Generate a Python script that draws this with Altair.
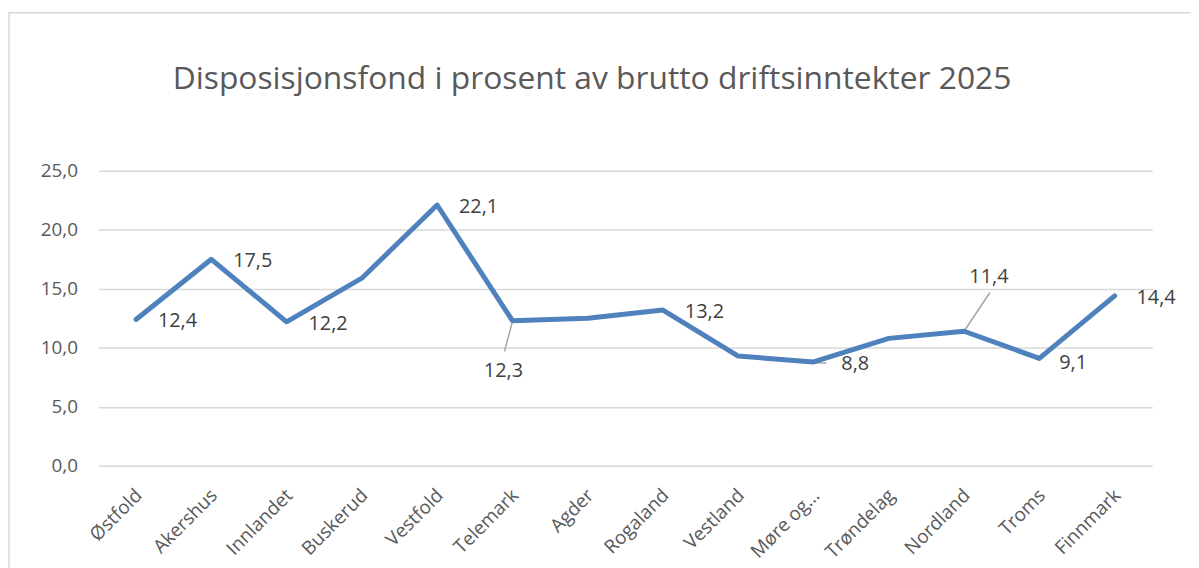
import altair as alt
import pandas as pd

regions = ["Østfold", "Akershus", "Innlandet", "Buskerud", "Vestfold", "Telemark", "Agder",
           "Rogaland", "Vestland", "Møre og...", "Trøndelag", "Nordland", "Troms", "Finnmark"]
values = [12.4, 17.5, 12.2, 15.9, 22.1, 12.3, 12.5, 13.2, 9.3, 8.8, 10.8, 11.4, 9.1, 14.4]
label_pos = ["right", "right", "right", "none", "right", "below", "none",
             "right", "none", "farright", "none", "above", "lowright", "right"]
y_ticks = [0, 5, 10, 15, 20, 25]
title_text = "Disposisjonsfond  i prosent av brutto driftsinntekter 2025"

df = pd.DataFrame({"Region": regions, "value": values, "pos": label_pos})

FONT = "Open Sans"
GREY = "#595959"

xenc = alt.X("Region:N", sort=regions, scale=alt.Scale(type="point", padding=0.5),
             axis=alt.Axis(title=None, labelAngle=-45, labelFontSize=19, labelColor=GREY,
                           labelFont=FONT, domain=False, ticks=False, labelPadding=20,
                           labelOffset=-4, grid=False))
yenc = alt.Y("value:Q", scale=alt.Scale(domain=[0, 25]),
             axis=alt.Axis(title=None, values=y_ticks, labelFontSize=19, labelColor=GREY,
                           labelFont=FONT, domain=False, ticks=False, labelPadding=21,
                           grid=True, gridColor="#d9d9d9", gridWidth=1.5,
                           labelExpr="replace(format(datum.value, '.1f'), '.', ',')"))

base = alt.Chart(df)

line = base.mark_line(color="#4f81bd", strokeWidth=5, strokeJoin="round", strokeCap="round").encode(
    x=xenc, y=yenc)

def labels(pos, align, dx, dy):
    return base.transform_filter(alt.datum.pos == pos).transform_calculate(
        lbl="replace(format(datum.value, '.1f'), '.', ',')"
    ).mark_text(align=align, baseline="middle", dx=dx, dy=dy, fontSize=20, font=FONT,
                color="#404040").encode(x=xenc, y=yenc, text="lbl:N")

def leader(region, x2o, y2o, yo=0):
    return base.transform_filter(alt.datum.Region == region).mark_rule(
        color="#a6a6a6", strokeWidth=1.5, yOffset=yo, x2Offset=x2o, y2Offset=y2o
    ).encode(x=xenc, y=yenc, x2="Region", y2="value")

frame = alt.Chart(pd.DataFrame({"a": [0]})).mark_rect(
    fillOpacity=0, stroke="#d9d9d9", strokeWidth=1.5
).encode(x=alt.value(-90), y=alt.value(-159), x2=alt.value(1200), y2=alt.value(500))

title = alt.Chart(pd.DataFrame({"t": [title_text]})).mark_text(
    fontSize=32, font=FONT, color=GREY, align="center", baseline="alphabetic"
).encode(x=alt.value(497), y=alt.value(-82), text="t:N")

chart = alt.layer(
    frame, title,
    leader("Telemark", -8, 31, 1), leader("Møre og...", 13, 1, 1), leader("Nordland", 26, -39),
    line,
    labels("right", "left", 22, 2), labels("lowright", "left", 20, 5),
    labels("farright", "left", 28, 2), labels("below", "center", -9, 51),
    labels("above", "center", 25, -55),
).properties(
    width=1061, height=297, autosize="none",
    padding={"left": 91, "top": 162, "right": 39, "bottom": 101},
    background="white",
).configure_view(strokeWidth=0)

chart.save("out.html", embed_options={"renderer": "svg", "actions": False})
